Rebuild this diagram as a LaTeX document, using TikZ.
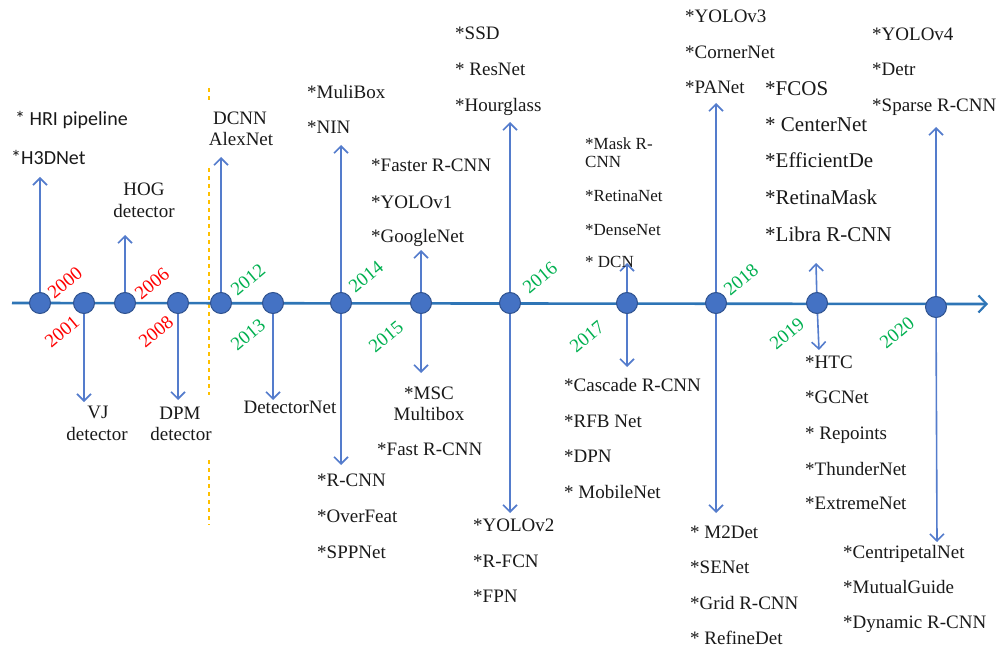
\documentclass[tikz,border=0pt]{standalone}
\usepackage{fontspec}
\setmainfont{Liberation Serif}
\newfontfamily\tnr{Liberation Serif}
\newfontfamily\calib{Carlito}
\usetikzlibrary{arrows.meta}
\definecolor{axisblue}{RGB}{46,117,182}
\definecolor{arrblue}{RGB}{84,124,204}
\definecolor{dotfill}{RGB}{68,114,196}
\definecolor{dotedge}{RGB}{47,82,143}
\definecolor{yred}{RGB}{255,0,0}
\definecolor{ygreen}{RGB}{0,176,80}
\definecolor{sepcol}{RGB}{255,192,0}
\begin{document}
\begin{tikzpicture}[x=1pt,y=-1pt,
  dot/.style={circle, fill=dotfill, draw=dotedge, line width=1pt, minimum size=21pt, inner sep=0pt},
  arr/.style={draw=arrblue, line width=1.6pt, -{Straight Barb[length=7pt,width=14pt,line width=1.6pt]}},
  txt/.style={anchor=base west, inner sep=0pt, text=black!90, font=\tnr\fontsize{19}{22}\selectfont},
  stxt/.style={txt, font=\tnr\fontsize{17}{20}\selectfont},
  btxt/.style={txt, font=\tnr\fontsize{21}{24}\selectfont},
  ctxt/.style={txt, anchor=base},
  sans/.style={txt, font=\calib\fontsize{20}{24}\selectfont},
  yr/.style={rotate=40, inner sep=0pt, text=yred, font=\tnr\fontsize{19}{22}\selectfont},
  yg/.style={yr, text=ygreen},
  sepline/.style={draw=sepcol, line width=1.4pt, dash pattern=on 4pt off 4pt}]
\useasboundingbox (0,0) rectangle (997,650);
% era separator
\coordinate (s1) at (209,88); \coordinate (s2) at (209,100);
\coordinate (s3) at (209,168); \coordinate (s4) at (209,395);
\coordinate (s5) at (209,460); \coordinate (s6) at (209,525);
\draw[sepline] (s1) -- (s2);
\draw[sepline] (s3) -- (s4);
\draw[sepline] (s5) -- (s6);
% axis
\coordinate (axs) at (12,303);
\coordinate (axe) at (988,304);
\draw[axisblue, line width=2.6pt, -{Straight Barb[length=8pt,width=17pt,line width=2.2pt]}] (axs) -- (axe);
% circles
\node[dot] (c2000) at (40,303) {};
\node[dot] (c2001) at (84,303) {};
\node[dot] (c2006) at (125,303) {};
\node[dot] (c2008) at (178,303) {};
\node[dot] (c2012) at (221,303) {};
\node[dot] (c2013) at (273,303) {};
\node[dot] (c2014) at (341,303) {};
\node[dot] (c2015) at (421,303) {};
\node[dot] (c2016) at (510,303) {};
\node[dot] (c2017) at (627,303) {};
\node[dot] (c2018) at (716,303) {};
\node[dot] (c2019) at (817,303) {};
\node[dot] (c2020) at (936,307) {};
% arrow tips
\coordinate (u2000) at (40,177);
\coordinate (d2001) at (84,402);
\coordinate (u2006) at (125,235);
\coordinate (d2008) at (178,400);
\coordinate (u2012) at (221,157);
\coordinate (d2013) at (273,400);
\coordinate (u2014) at (341,145);
\coordinate (d2014) at (341,465);
\coordinate (u2015) at (421,250);
\coordinate (d2015) at (421,373);
\coordinate (u2016) at (510,122);
\coordinate (d2016) at (510,513);
\coordinate (u2017) at (627,263);
\coordinate (d2017) at (627,367);
\coordinate (u2018) at (716,103);
\coordinate (d2018) at (716,513);
\coordinate (u2019) at (816,263);
\coordinate (d2019) at (819,350);
\coordinate (u2020) at (936,127);
\coordinate (d2020) at (937,542);
\draw[arr] (c2000) -- (u2000);
\draw[arr] (c2001) -- (d2001);
\draw[arr] (c2006) -- (u2006);
\draw[arr] (c2008) -- (d2008);
\draw[arr] (c2012) -- (u2012);
\draw[arr] (c2013) -- (d2013);
\draw[arr] (c2014) -- (u2014);
\draw[arr] (c2014) -- (d2014);
\draw[arr] (c2015) -- (u2015);
\draw[arr] (c2015) -- (d2015);
\draw[arr] (c2016) -- (u2016);
\draw[arr] (c2016) -- (d2016);
\draw[arr] (c2017) -- (u2017);
\draw[arr] (c2017) -- (d2017);
\draw[arr] (c2018) -- (u2018);
\draw[arr] (c2018) -- (d2018);
\draw[arr] (c2019) -- (u2019);
\draw[arr] (c2019) -- (d2019);
\draw[arr] (c2020) -- (u2020);
\draw[arr] (c2020) -- (d2020);
% years
\node[yr] (y2000) at (65,283) {2000};
\node[yr] (y2001) at (62,332) {2001};
\node[yr] (y2006) at (152,284) {2006};
\node[yr] (y2008) at (156,332) {2008};
\node[yg] (y2012) at (248,280) {2012};
\node[yg] (y2013) at (248,335) {2013};
\node[yg] (y2014) at (366,277) {2014};
\node[yg] (y2015) at (386,337) {2015};
\node[yg] (y2016) at (540,278) {2016};
\node[yg] (y2017) at (587,337) {2017};
\node[yg] (y2018) at (741,280) {2018};
\node[yg] (y2019) at (787,334) {2019};
\node[yg] (y2020) at (897,333) {2020};
% labels
\node[sans] (hri) at (15,126) {* HRI pipeline};
\node[sans] (h3d) at (11,165) {*H3DNet};
\node[ctxt] (hog1) at (144,196) {HOG};
\node[ctxt] (hog2) at (144,218) {detector};
\node[ctxt] (dc1) at (240,125) {DCNN};
\node[ctxt] (dc2) at (241,146) {AlexNet};
\node[ctxt] (vj1) at (98,418) {VJ};
\node[ctxt] (vj2) at (97,440) {detector};
\node[ctxt] (dpm1) at (180,419) {DPM};
\node[ctxt] (dpm2) at (181,440) {detector};
\node[ctxt] (detnet) at (290,413) {DetectorNet};
\node[txt] (mb) at (307,99) {*MuliBox};
\node[txt] (nin) at (307,134) {*NIN};
\node[txt] (frcnn) at (371,172) {*Faster R-CNN};
\node[txt] (yv1) at (371,208) {*YOLOv1};
\node[txt] (gnet) at (371,243) {*GoogleNet};
\node[ctxt] (msc1) at (429,399) {*MSC};
\node[ctxt] (msc2) at (429,420) {Multibox};
\node[txt] (fast) at (377,455) {*Fast R-CNN};
\node[txt] (rcnn) at (317,486) {*R-CNN};
\node[txt] (ovf) at (317,522) {*OverFeat};
\node[txt] (spp) at (317,558) {*SPPNet};
\node[txt] (ssd) at (455,40) {*SSD};
\node[txt] (res) at (455,76) {* ResNet};
\node[txt] (hg) at (455,112) {*Hourglass};
\node[stxt] (mask1) at (585,150) {*Mask R-};
\node[stxt] (mask2) at (585,168) {CNN};
\node[stxt] (ret) at (585,202) {*RetinaNet};
\node[stxt] (dense) at (585,236) {*DenseNet};
\node[stxt] (dcn) at (585,268) {* DCN};
\node[txt] (casc) at (564,391) {*Cascade R-CNN};
\node[txt] (rfb) at (564,427) {*RFB Net};
\node[txt] (dpn) at (564,462) {*DPN};
\node[txt] (mob) at (564,498) {* MobileNet};
\node[txt] (yv2) at (473,531) {*YOLOv2};
\node[txt] (rfcn) at (473,567) {*R-FCN};
\node[txt] (fpn) at (473,602) {*FPN};
\node[txt] (yv3) at (685,23) {*YOLOv3};
\node[txt] (corner) at (685,59) {*CornerNet};
\node[txt] (pan) at (685,94) {*PANet};
\node[btxt] (fcos) at (765,96) {*FCOS};
\node[btxt] (center) at (765,132) {* CenterNet};
\node[btxt] (eff) at (765,168) {*EfficientDe};
\node[btxt] (rmask) at (765,205) {*RetinaMask};
\node[btxt] (libra) at (765,242) {*Libra R-CNN};
\node[txt] (yv4) at (872,41) {*YOLOv4};
\node[txt] (detr) at (872,76) {*Detr};
\node[txt] (sparse) at (872,112) {*Sparse R-CNN};
\node[txt] (htc) at (805,368) {*HTC};
\node[txt] (gc) at (805,403) {*GCNet};
\node[txt] (rep) at (805,439) {* Repoints};
\node[txt] (thunder) at (805,475) {*ThunderNet};
\node[txt] (extreme) at (805,509) {*ExtremeNet};
\node[txt] (m2) at (690,538) {* M2Det};
\node[txt] (se) at (690,573) {*SENet};
\node[txt] (grid) at (690,609) {*Grid R-CNN};
\node[txt] (refine) at (690,644) {* RefineDet};
\node[txt] (centri) at (843,558) {*CentripetalNet};
\node[txt] (mutual) at (843,593) {*MutualGuide};
\node[txt] (dyn) at (843,628) {*Dynamic R-CNN};
\end{tikzpicture}
\end{document}
